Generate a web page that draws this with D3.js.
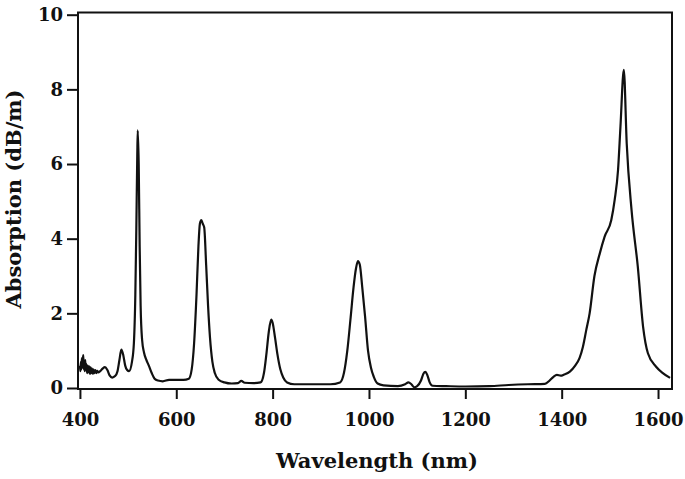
<!DOCTYPE html>
<html>
<head>
<meta charset="utf-8">
<script src="https://cdn.jsdelivr.net/npm/d3@7"></script>
<style>
  body { margin: 0; background: #fff; }
  text { font-family: "DejaVu Serif", serif; font-weight: bold; fill: #111; }
</style>
</head>
<body>
<svg></svg>
<script>
// absorption spectrum
let wavelengths = [400, 401, 402, 403, 404, 405, 406, 407, 408, 409, 410, 411, 412, 413, 415, 416, 418,
  419, 421, 422, 424, 425, 427, 428, 430, 432, 434, 436, 438,
  442, 447, 452, 457, 462, 467, 473, 478, 482, 486, 490, 494, 498, 502, 508, 512, 515, 517, 519,
  520, 522, 524, 526, 529, 533, 538, 543, 549, 555, 562, 572, 585, 600, 615, 626, 632, 637, 642,
  646, 649, 652, 655, 658, 662, 666, 670, 675, 680, 688, 700, 715, 728, 735, 742, 760, 775, 782,
  787, 792, 797, 800, 805, 810, 816, 822, 830, 845, 880, 920, 940, 948, 955, 962, 968, 973, 977,
  981, 986, 992, 998, 1004, 1010, 1018, 1030, 1060, 1075, 1082, 1088, 1094, 1100, 1108, 1113,
  1117, 1121, 1126, 1132, 1160, 1200, 1250, 1290, 1330, 1365, 1375, 1383, 1390, 1398, 1405, 1417,
  1428, 1437, 1444, 1451, 1458, 1468, 1479, 1489, 1503, 1510, 1517, 1522, 1529, 1535, 1545, 1558,
  1569, 1579, 1596, 1610, 1625]
let absorption = [0.6, 0.45, 0.7, 0.5, 0.8, 0.55, 0.75, 0.88, 0.5, 0.7, 0.45, 0.75, 0.5, 0.65, 0.4, 0.6, 0.42,
  0.58, 0.38, 0.55, 0.4, 0.52, 0.38, 0.5, 0.4, 0.48, 0.4, 0.46, 0.42,
  0.45, 0.52, 0.56, 0.48, 0.33, 0.28, 0.32, 0.45, 0.75, 1.03, 0.88, 0.6, 0.48, 0.45, 0.7, 1.2, 2.5, 4.2, 6.2,
  6.9, 6.0, 3.8, 2.2, 1.3, 0.95, 0.75, 0.6, 0.4, 0.25, 0.2, 0.18, 0.22, 0.22, 0.22, 0.25, 0.5, 1.2, 2.5,
  3.8, 4.4, 4.5, 4.4, 4.3, 3.3, 2.2, 1.35, 0.7, 0.4, 0.22, 0.15, 0.12, 0.13, 0.19, 0.14, 0.13, 0.15, 0.4,
  0.9, 1.5, 1.83, 1.75, 1.35, 0.9, 0.5, 0.28, 0.15, 0.1, 0.1, 0.1, 0.15, 0.4, 1.0, 1.9, 2.7, 3.2, 3.4,
  3.3, 2.7, 1.9, 1.0, 0.55, 0.3, 0.12, 0.07, 0.05, 0.1, 0.15, 0.1, 0.02, 0.05, 0.2, 0.38,
  0.43, 0.35, 0.15, 0.06, 0.05, 0.04, 0.05, 0.08, 0.1, 0.11, 0.2, 0.3, 0.35, 0.33, 0.36, 0.44,
  0.6, 0.8, 1.1, 1.55, 2.0, 3.0, 3.6, 4.05, 4.5, 5.04, 5.84, 7.0, 8.52, 6.55, 4.77, 3.25,
  1.64, 0.93, 0.57, 0.4, 0.27]

let xTicks = [400, 600, 800, 1000, 1200, 1400, 1600]
let yTicks = [0, 2, 4, 6, 8, 10]

let width = 685
let height = 479
let plotLeft = 78, plotRight = 672, plotTop = 12.5, plotBottom = 389

let svg = d3.select("svg").attr("width", width).attr("height", height)

let xScale = d3.scaleLinear().domain([396, 1629]).range([plotLeft, plotRight])
let yScale = d3.scaleLinear().domain([0, 10]).range([388, 14.7])

// frame
svg.append("rect")
  .attr("x", plotLeft).attr("y", plotTop)
  .attr("width", plotRight - plotLeft).attr("height", plotBottom - plotTop)
  .attr("fill", "none").attr("stroke", "#111").attr("stroke-width", 2)

let xAxis = d3.axisBottom(xScale).tickValues(xTicks).tickSize(10).tickPadding(14).tickFormat(d3.format("d"))
let yAxis = d3.axisLeft(yScale).tickValues(yTicks).tickSize(11).tickPadding(4)

let gx = svg.append("g").attr("transform", "translate(0," + plotBottom + ")").call(xAxis)
let gy = svg.append("g").attr("transform", "translate(" + plotLeft + ",0)").call(yAxis)

for (let g of [gx, gy]) {
  g.select(".domain").remove()
  g.selectAll("line").attr("stroke", "#111").attr("stroke-width", 2)
  g.selectAll("text").style("font-size", "18px").attr("fill", "#111")
}

// spectrum line
let points = wavelengths.map((w, i) => [w, absorption[i]])
let line = d3.line()
  .x(d => xScale(d[0]))
  .y(d => yScale(d[1]))
  .curve(d3.curveMonotoneX)

svg.append("path")
  .datum(points)
  .attr("d", line)
  .attr("fill", "none")
  .attr("stroke", "#111")
  .attr("stroke-width", 2.2)
  .attr("stroke-linejoin", "round")

// axis titles
svg.append("text")
  .attr("x", 377).attr("y", 468)
  .attr("text-anchor", "middle")
  .style("font-size", "21px")
  .text("Wavelength (nm)")

svg.append("text")
  .attr("transform", "translate(21,199) rotate(-90)")
  .attr("text-anchor", "middle")
  .style("font-size", "21px")
  .text("Absorption (dB/m)")
</script>
</body>
</html>
